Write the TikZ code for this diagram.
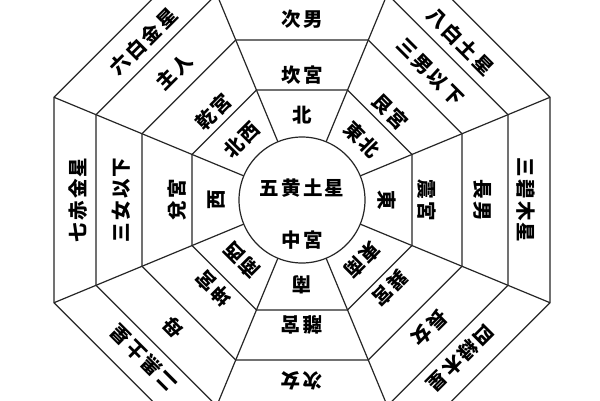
\documentclass[tikz,border=0pt]{standalone}
\usepackage{fontspec}
\newfontfamily\jp{Noto Sans CJK JP}[LetterSpace=12]
\newcommand\secthree[4]{%
  \node[lbl, rotate={#1-90}] (a#1) at (#1:85) {#2};
  \node[lbl, rotate={#1-90}] (b#1) at (#1:125) {#3};
  \node[lbl, rotate={#1-90}] (c#1) at (#1:181) {#4};}
\newcommand\secfour[5]{%
  \secthree{#1}{#2}{#3}{#4}%
  \node[lbl, rotate={#1-90}] (d#1) at (#1:224) {#5};}
\begin{document}
\begin{tikzpicture}[x=1pt,y=1pt,
  lbl/.style={font=\jp\bfseries\fontsize{19.5}{20}\selectfont, inner sep=0pt},
  edge/.style={line width=1.2pt, draw=black!85}]
\useasboundingbox (0,0) rectangle (600,400);
\fill[white] (0,0) rectangle (600,400);
\begin{scope}[shift={(302,200)}]
  \foreach \a in {110,160,206,248}{
    \draw[edge] (22.5:{\a*1.0824})
      \foreach \t in {67.5,112.5,...,337.5}{ -- (\t:{\a*1.0824}) } -- cycle;
  }
  \foreach \t in {22.5,67.5,...,337.5}
    \draw[edge] (\t:63) -- (\t:{248*1.0824});
  \node[circle, draw=black!85, line width=1.2pt, minimum size=126pt, inner sep=0pt, fill=white] (ctr) at (0,0) {};
  \node[lbl] (ctra) at (0,12) {五黄土星};
  \node[lbl] (ctrb) at (0,-40) {中宮};
  \secthree{90}{北}{坎宮}{次男}
  \secfour{45}{東北}{艮宮}{三男以下}{八白土星}
  \secfour{0}{東}{震宮}{長男}{三碧木星}
  \secfour{-45}{東南}{巽宮}{長女}{四緑木星}
  \secthree{-90}{南}{離宮}{次女}
  \secfour{-135}{南西}{坤宮}{母}{二黒土星}
  \secfour{180}{西}{兌宮}{三女以下}{七赤金星}
  \secfour{135}{北西}{乾宮}{主人}{六白金星}
\end{scope}
\end{tikzpicture}
\end{document}
